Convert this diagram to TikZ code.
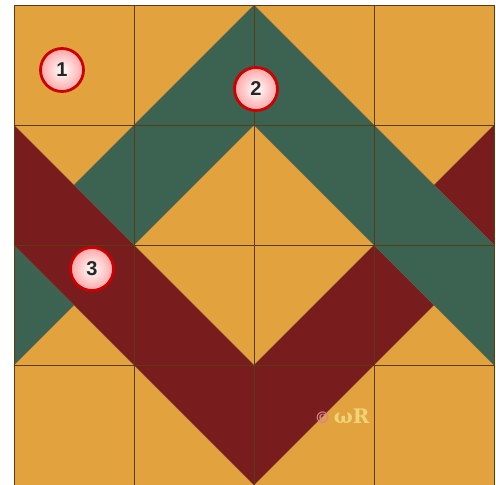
\documentclass[tikz,border=0pt]{standalone}
\usepackage{fontspec}
\setmainfont{Liberation Sans}
\newfontfamily\logofont{DejaVu Serif}
\definecolor{fabor}{RGB}{226,162,62}
\definecolor{fabgr}{RGB}{60,98,82}
\definecolor{fabrd}{RGB}{120,28,30}
\definecolor{seam}{RGB}{92,58,18}
\definecolor{gold}{RGB}{240,212,120}
\definecolor{copypink}{RGB}{214,130,150}
\tikzset{
  numdisc/.style={circle, minimum size=43pt, inner sep=0pt, draw=red!80!black, line width=2.8pt,
    inner color=white, outer color=red!35, font=\fontsize{20}{20}\selectfont\bfseries, text=black!85},
  seamline/.style={draw=seam, line width=1pt},
  thinseam/.style={draw=seam!80, line width=0.5pt, opacity=0.5}
}
\begin{document}
\begin{tikzpicture}[x=1pt,y=-1pt]
\path[use as bounding box] (0,0) rectangle (496,485);
\fill[white] (0,0) rectangle (496,485);
% cell corner coordinates p<c><r>
\foreach \c in {0,...,4}{\foreach \r in {0,...,4}{
  \coordinate (p\c\r) at ({14+120*\c},{5+120*\r});}}
\coordinate (q1) at ({14+120*3.5},{5+120*1.5});
\coordinate (q2) at ({14+120*3.5},{5+120*2.5});
\fill[fabor] (p00) rectangle (p44);
% green inverted V
\fill[fabgr] (p02) -- (p20) -- (p42) -- (p43) -- (p21) -- (p03) -- cycle;
\draw[thinseam] (p02) -- (p20) -- (p42);
\draw[thinseam] (p03) -- (p21) -- (p43);
% red V (over green at left)
\fill[fabrd] (p01) -- (p23) -- (p41) -- (p42) -- (p24) -- (p02) -- cycle;
\draw[thinseam] (p01) -- (p23) -- (p41);
\draw[thinseam] (p02) -- (p24) -- (p42);
% green over red at right
\filldraw[fill=fabgr, draw=fabgr, line width=0.6pt] (q1) -- (p42) -- (q2) -- (p32) -- cycle;
\draw[thinseam] (q1) -- (p42);
\draw[thinseam] (p32) -- (q2);
% grid
\foreach \i in {0,...,4}{
  \draw[seamline] (p\i0) -- (p\i4);
  \draw[seamline] (p0\i) -- (p4\i);
}
% numbered discs
\node[numdisc] (n1) at (62,70) {1};
\node[numdisc] (n2) at (256,89) {2};
\node[numdisc] (n3) at (92,269) {3};
% logo
\node[text=gold, font=\logofont\bfseries\fontsize{20}{20}\selectfont, inner sep=0pt] (logo) at (342,416) {\textcolor{copypink}{\fontsize{16}{16}\selectfont ©}\,ωR};
\end{tikzpicture}
\end{document}
